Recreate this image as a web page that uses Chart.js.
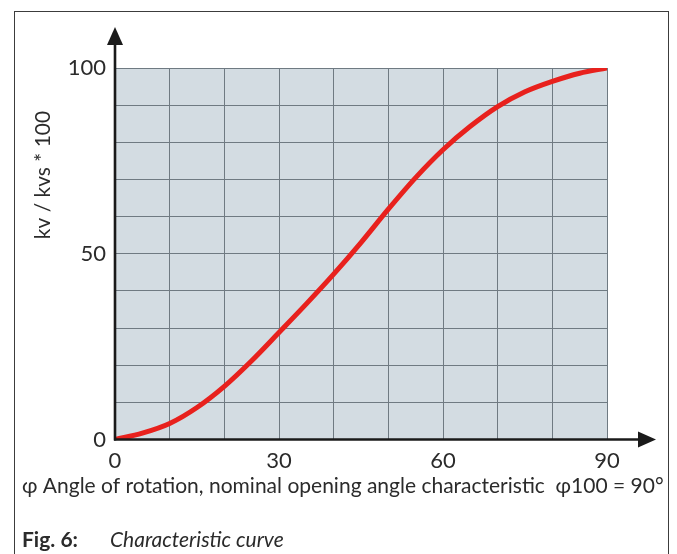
<!DOCTYPE html>
<html>
<head>
<meta charset="utf-8">
<script src="https://cdn.jsdelivr.net/npm/chart.js@4"></script>
<style>
    body { margin: 0; background: #fff; }
    #wrap { position: relative; width: 677px; height: 554px; overflow: hidden; }
    #frame {
        position: absolute; left: 14px; top: 11px; width: 655px; height: 600px;
        border: 1.5px solid #3c3c3c; box-sizing: border-box;
    }
    #chartKv { position: absolute; left: 0; top: 0; }
</style>
</head>
<body>
<div id="wrap">
    <div id="frame"></div>
    <canvas id="chartKv" width="677" height="554"></canvas>
</div>
<script>
// angle of rotation in degrees, kv/kvs in %
const angulos = [0, 5, 10, 15, 20, 25, 30, 35, 40, 45, 50, 55, 60, 65, 70, 75, 80, 85, 90];
const caudal = [0, 1.7, 4.3, 8.6, 14.3, 21.2, 28.8, 36.5, 44.5, 53, 62, 70.5, 78, 84.3, 89.6, 93.6, 96.4, 98.6, 100];
const ticksX = [0, 30, 60, 90];
const ticksY = [0, 50, 100];

const tituloX = "\u03c6 Angle of rotation, nominal opening angle characteristic  \u03c6100 = 90\u00b0";
const tituloY = "kv / kvs * 100";
const figura = "Fig. 6:";
const leyenda = "Characteristic curve";

const fuente = "Lato, 'Open Sans', sans-serif";
const grisTexto = "#2b2b2b";

const puntos = angulos.map((a, i) => ({ x: a, y: caudal[i] }));

// fondo, flechas de los ejes y textos
const pluginDecorado = {
    id: "decorado",
    beforeDraw(chart) {
        const { ctx, chartArea } = chart;
        ctx.save();
        ctx.fillStyle = "#d3dce2";
        ctx.fillRect(chartArea.left, chartArea.top, chartArea.right - chartArea.left, chartArea.bottom - chartArea.top);
        ctx.restore();
    },
    afterDraw(chart) {
        const { ctx } = chart;
        const x0 = chart.scales.x.getPixelForValue(0);
        const y0 = chart.scales.y.getPixelForValue(0);
        ctx.save();
        ctx.strokeStyle = "#1a1a1a";
        ctx.fillStyle = "#1a1a1a";
        ctx.lineWidth = 2.6;
        // eje y
        ctx.beginPath();
        ctx.moveTo(x0, y0 + 1);
        ctx.lineTo(x0, 40);
        ctx.stroke();
        ctx.beginPath();
        ctx.moveTo(x0, 27);
        ctx.lineTo(x0 - 8, 45);
        ctx.lineTo(x0 + 8, 45);
        ctx.closePath();
        ctx.fill();
        // eje x
        ctx.beginPath();
        ctx.moveTo(x0 - 1, y0);
        ctx.lineTo(642, y0);
        ctx.stroke();
        ctx.beginPath();
        ctx.moveTo(656, y0);
        ctx.lineTo(638, y0 - 8);
        ctx.lineTo(638, y0 + 8);
        ctx.closePath();
        ctx.fill();

        ctx.fillStyle = grisTexto;
        ctx.textBaseline = "middle";
        ctx.font = "21px " + fuente;
        ctx.textAlign = "left";
        ctx.fillText(tituloX, 22, 486);

        ctx.translate(43, 175);
        ctx.rotate(-Math.PI / 2);
        ctx.textAlign = "center";
        ctx.fillText(tituloY, 0, 0);
        ctx.setTransform(chart.currentDevicePixelRatio, 0, 0, chart.currentDevicePixelRatio, 0, 0);

        ctx.textAlign = "left";
        ctx.font = "bold 21px " + fuente;
        ctx.fillText(figura, 22, 540);
        ctx.font = "italic 21px " + fuente;
        ctx.fillText(leyenda, 110, 540);
        ctx.restore();
    },
};

const configKv = {
    type: "line",
    data: {
        datasets: [
            {
                label: tituloY,
                data: puntos,
                borderColor: "#e8211d",
                borderWidth: 5,
                pointRadius: 0,
                cubicInterpolationMode: "monotone",
                fill: false,
            },
        ],
    },
    options: {
        responsive: false,
        animation: false,
        layout: {
            padding: { left: 0, top: 68, right: 70, bottom: 0 },
        },
        plugins: {
            legend: { display: false },
            tooltip: { enabled: false },
        },
        scales: {
            x: {
                type: "linear",
                min: 0,
                max: 90,
                afterFit: (scale) => { scale.height = 114.5; },
                border: { display: false },
                grid: { color: "#6f7a82", lineWidth: 1, drawTicks: false },
                ticks: {
                    stepSize: 10,
                    padding: 8,
                    color: grisTexto,
                    font: { family: fuente, size: 22 },
                    callback: (v) => (ticksX.includes(v) ? v : ""),
                },
            },
            y: {
                type: "linear",
                min: 0,
                max: 100,
                afterFit: (scale) => { scale.width = 115; },
                border: { display: false },
                grid: { color: "#6f7a82", lineWidth: 1, drawTicks: false },
                ticks: {
                    stepSize: 10,
                    padding: 9,
                    color: grisTexto,
                    font: { family: fuente, size: 22 },
                    callback: (v) => (ticksY.includes(v) ? v : ""),
                },
            },
        },
    },
    plugins: [pluginDecorado],
};

const chartKv = new Chart(document.getElementById("chartKv"), configKv);
</script>
</body>
</html>
